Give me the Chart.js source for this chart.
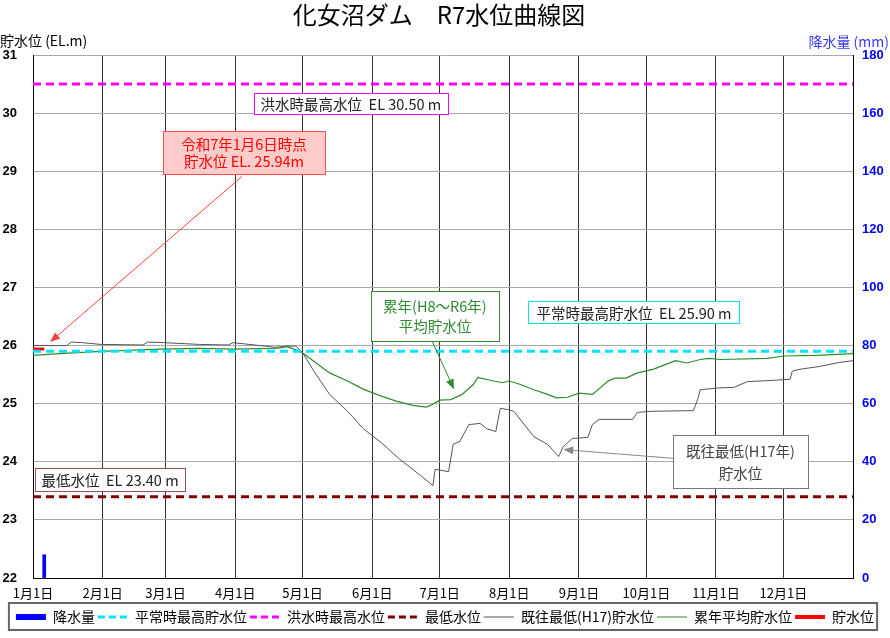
<!DOCTYPE html>
<html>
<head>
<meta charset="utf-8">
<script src="https://cdn.jsdelivr.net/npm/chart.js@4.4.1/dist/chart.umd.min.js"></script>
<style>
  html, body { margin: 0; padding: 0; background: #fff; }
</style>
</head>
<body>
<canvas id="levelChart" width="890" height="638"></canvas>
<script>
const JP = "'Noto Sans CJK JP', 'Noto Sans', sans-serif";
const NUM = "'Liberation Sans', Arial, sans-serif";

// x axis: day of year (0 = Jan 1)
const monthStarts = [0, 31, 59, 90, 120, 151, 181, 212, 243, 273, 304, 334];
const monthLabels = ['1月1日', '2月1日', '3月1日', '4月1日', '5月1日', '6月1日',
                     '7月1日', '8月1日', '9月1日', '10月1日', '11月1日', '12月1日'];

// reference levels (EL.m)
const floodHighLevel = 30.50;
const normalHighLevel = 25.90;
const minLevel = 23.40;

// rainfall (mm)
const rainDays = [5];
const rainMm = [8];

// current year storage level R7
const nowDays = [0, 1, 2, 3, 4, 5];
const nowLevels = [25.94, 25.94, 25.94, 25.94, 25.94, 25.94];

// record low (H17)
const lowDays = [0, 15, 17, 22, 30, 49, 51, 58, 74, 87, 89, 101, 108, 113, 117, 120, 125, 132, 140, 147,
                 155, 163, 172, 178, 179, 185, 187, 190, 194, 199, 202, 206, 208, 211, 214, 223, 229, 234, 236, 240,
                 247, 249, 252, 267, 269, 276, 294, 296, 297, 305, 312, 318, 329, 337, 338, 341, 350, 359, 365];
const lowLevels = [26.00, 26.00, 26.06, 26.05, 26.02, 26.01, 26.06, 26.05, 26.02, 26.01, 26.05, 26.00, 25.97, 25.99, 25.99, 25.88, 25.56, 25.16, 24.87, 24.57,
                   24.33, 24.05, 23.78, 23.59, 23.87, 23.83, 24.30, 24.35, 24.64, 24.66, 24.57, 24.52, 24.92, 24.90, 24.87, 24.43, 24.30, 24.09, 24.26, 24.40,
                   24.42, 24.64, 24.73, 24.73, 24.85, 24.87, 24.88, 25.09, 25.24, 25.27, 25.28, 25.38, 25.40, 25.42, 25.56, 25.59, 25.64, 25.71, 25.74];

// average H8-R6
const avgDays = [0, 12, 30, 45, 57, 74, 89, 107, 110, 113, 119, 125, 132, 140, 147, 155, 162, 169, 175, 178,
                 181, 186, 191, 196, 198, 205, 209, 212, 217, 223, 229, 233, 238, 243, 249, 256, 259, 264, 269, 276,
                 282, 286, 291, 297, 301, 306, 327, 334, 349, 365];
const avgLevels = [25.83, 25.86, 25.90, 25.92, 25.94, 25.95, 25.94, 25.95, 25.96, 25.98, 25.90, 25.73, 25.53, 25.39, 25.25, 25.13, 25.04, 24.97, 24.94, 24.99,
                   25.06, 25.07, 25.16, 25.33, 25.45, 25.39, 25.36, 25.39, 25.33, 25.24, 25.16, 25.10, 25.11, 25.18, 25.16, 25.39, 25.44, 25.44, 25.53, 25.59,
                   25.68, 25.74, 25.70, 25.76, 25.78, 25.76, 25.78, 25.82, 25.83, 25.86];

const pts = (xs, ys) => xs.map((d, i) => ({ x: d, y: ys[i] }));
const flat = v => [{ x: 0, y: v }, { x: 365, y: v }];

// text boxes, placed in data coordinates (day, level)
const notes = [
  { lines: ['洪水時最高水位  EL 30.50 m'], day: 141.5, level: 30.17, w: 194, h: 21, gap: 0, border: '#ff00ff', fill: '#ffffff', color: '#222' },
  { lines: ['令和7年1月6日時点', '貯水位 EL. 25.94m'], day: 93.9, level: 29.33, w: 162, h: 43, gap: 17, border: '#f05050', fill: '#ffcccc', color: '#ff0000' },
  { lines: ['累年(H8～R6年)', '平均貯水位'], day: 178.9, level: 26.51, w: 128, h: 50, gap: 20, border: '#2e8b2e', fill: '#ffffff', color: '#2e8b2e' },
  { lines: ['平常時最高貯水位  EL 25.90 m'], day: 267.5, level: 26.57, w: 211, h: 22, gap: 0, border: '#00e5ee', fill: '#ffffff', color: '#222' },
  { lines: ['既往最低(H17年)', '貯水位'], day: 314.9, level: 24.01, w: 135, h: 53, gap: 22, border: '#777777', fill: '#ffffff', color: '#444' },
  { lines: ['最低水位  EL 23.40 m'], day: 34.3, level: 23.69, w: 150, h: 23, gap: 0, border: '#a05050', fill: '#ffffff', color: '#222' }
];
const arrows = [
  { from: [93, 28.91], to: [7.6, 26.06], color: '#ff4040' },
  { from: [177.6, 26.08], to: [187.4, 25.25], color: '#2e8b2e' },
  { from: [284.9, 24.06], to: [236, 24.21], color: '#888888' }
];

const notePlugin = {
  id: 'notes',
  afterDatasetsDraw(chart) {
    const { ctx, scales: { x, y } } = chart;
    ctx.save();
    arrows.forEach(a => {
      const x1 = x.getPixelForValue(a.from[0]), y1 = y.getPixelForValue(a.from[1]);
      const x2 = x.getPixelForValue(a.to[0]), y2 = y.getPixelForValue(a.to[1]);
      const ang = Math.atan2(y2 - y1, x2 - x1);
      ctx.strokeStyle = a.color;
      ctx.fillStyle = a.color;
      ctx.lineWidth = 1;
      ctx.beginPath();
      ctx.moveTo(x1, y1);
      ctx.lineTo(x2 - 6 * Math.cos(ang), y2 - 6 * Math.sin(ang));
      ctx.stroke();
      ctx.beginPath();
      ctx.moveTo(x2, y2);
      ctx.lineTo(x2 - 10 * Math.cos(ang) + 4 * Math.sin(ang), y2 - 10 * Math.sin(ang) - 4 * Math.cos(ang));
      ctx.lineTo(x2 - 10 * Math.cos(ang) - 4 * Math.sin(ang), y2 - 10 * Math.sin(ang) + 4 * Math.cos(ang));
      ctx.closePath();
      ctx.fill();
    });
    ctx.font = '14.5px ' + JP;
    ctx.textAlign = 'center';
    ctx.textBaseline = 'middle';
    notes.forEach(n => {
      const cx = x.getPixelForValue(n.day), cy = y.getPixelForValue(n.level);
      const l = Math.round(cx - n.w / 2) + 0.5, t = Math.round(cy - n.h / 2) + 0.5;
      ctx.fillStyle = n.fill;
      ctx.fillRect(l, t, n.w, n.h);
      ctx.strokeStyle = n.border;
      ctx.lineWidth = 1;
      ctx.strokeRect(l, t, n.w, n.h);
      ctx.fillStyle = n.color;
      const y0 = cy - (n.lines.length - 1) * n.gap / 2;
      n.lines.forEach((s, i) => ctx.fillText(s, cx, y0 + i * n.gap + 1));
    });
    ctx.restore();
  },
  afterDraw(chart) {
    const ctx = chart.ctx;
    ctx.save();
    ctx.fillStyle = '#000';
    ctx.textBaseline = 'middle';
    ctx.font = '24px ' + JP;
    ctx.textAlign = 'center';
    ctx.fillText('化女沼ダム　R7水位曲線図', 439, 15);
    ctx.font = '14px ' + JP;
    ctx.textAlign = 'left';
    ctx.fillText('貯水位 (EL.m)', 0, 41);
    ctx.fillStyle = '#3a3aff';
    ctx.textAlign = 'right';
    ctx.fillText('降水量 (mm)', 889, 42);
    // frame round the legend
    const hb = chart.legend.legendHitBoxes;
    if (hb && hb.length) {
      const left = hb[0].left - 7;
      const last = hb[hb.length - 1];
      const right = last.left + last.width + 3;
      ctx.strokeStyle = '#666';
      ctx.lineWidth = 2;
      ctx.strokeRect(left, hb[0].top - 7, right - left, hb[0].height + 13);
    }
    ctx.restore();
  }
};

const lineSet = (label, data, color, width, dash, legendWidth) => ({
  type: 'line', label, data, borderColor: color, backgroundColor: color,
  borderWidth: width, borderDash: dash, pointRadius: 0, tension: 0, fill: false,
  yAxisID: 'y', legendWidth
});

new Chart(document.getElementById('levelChart'), {
  type: 'line',
  data: {
    datasets: [
      { type: 'bar', label: '降水量', data: pts(rainDays, rainMm), backgroundColor: '#0000ff',
        barThickness: 3, yAxisID: 'y2', legendWidth: 6 },
      lineSet('平常時最高貯水位', flat(normalHighLevel), '#00e5ff', 3, [8, 5], 3),
      lineSet('洪水時最高水位', flat(floodHighLevel), '#ff00ff', 3, [8, 5], 3),
      lineSet('最低水位', flat(minLevel), '#800000', 3, [8, 5], 3),
      lineSet('既往最低(H17)貯水位', pts(lowDays, lowLevels), '#555555', 1, [], 1),
      lineSet('累年平均貯水位', pts(avgDays, avgLevels), '#2e8b2e', 1.2, [], 1),
      lineSet('貯水位', pts(nowDays, nowLevels), '#ff0000', 3, [], 4)
    ]
  },
  options: {
    responsive: false,
    animation: false,
    events: [],
    layout: { padding: { top: 55, bottom: 4, left: 0, right: 0 } },
    scales: {
      x: {
        type: 'linear', min: 0, max: 365, offset: false,
        afterBuildTicks: s => { s.ticks = monthStarts.map(v => ({ value: v })); },
        afterFit: s => { s.height = 29; },
        grid: { color: '#333', lineWidth: 1, drawTicks: false, offset: false },
        border: { color: '#000', width: 1 },
        ticks: {
          autoSkip: false, maxRotation: 0, padding: 7, color: '#000',
          font: { family: JP, size: 13 },
          callback: v => monthLabels[monthStarts.indexOf(v)]
        }
      },
      y: {
        position: 'left', min: 22, max: 31,
        afterFit: s => { s.width = 33; },
        grid: { color: '#a8a8a8', lineWidth: 1, drawTicks: false },
        border: { color: '#000', width: 1 },
        ticks: { stepSize: 1, padding: 16, color: '#000', font: { family: NUM, size: 13, weight: 'bold' } }
      },
      y2: {
        position: 'right', min: 0, max: 180,
        afterFit: s => { s.width = 37; },
        grid: { drawOnChartArea: false, drawTicks: false },
        border: { color: '#000', width: 1 },
        ticks: { stepSize: 20, padding: 9, color: '#0000ff', font: { family: NUM, size: 13, weight: 'bold' } }
      }
    },
    plugins: {
      title: { display: false },
      tooltip: { enabled: false },
      legend: {
        position: 'bottom',
        labels: {
          usePointStyle: true,
          pointStyle: 'line',
          pointStyleWidth: 30,
          padding: 3,
          color: '#000',
          font: { family: JP, size: 14 },
          generateLabels: chart => {
            const items = Chart.defaults.plugins.legend.labels.generateLabels(chart);
            items.forEach(it => {
              const ds = chart.data.datasets[it.datasetIndex];
              it.lineWidth = ds.legendWidth;
              it.strokeStyle = ds.borderColor || ds.backgroundColor;
              it.pointStyle = 'line';
              it.lineDash = ds.borderDash && ds.borderDash.length ? [7, 4] : [];
            });
            return items;
          }
        }
      }
    }
  },
  plugins: [notePlugin]
});
</script>
</body>
</html>
